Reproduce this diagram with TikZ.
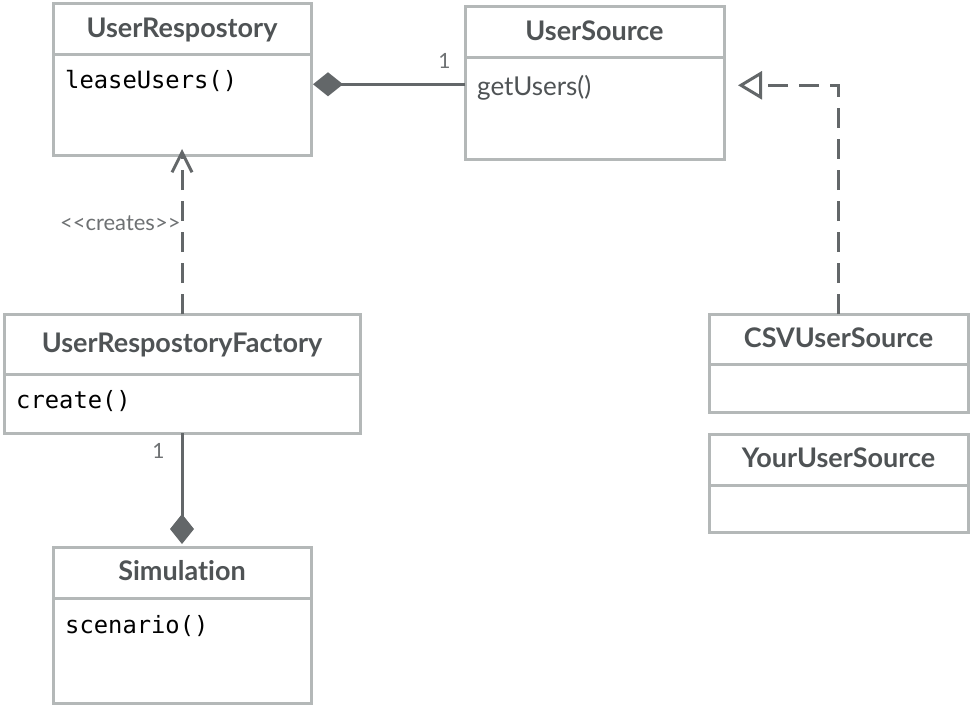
\documentclass[tikz,border=0pt]{standalone}
\usepackage{fontspec}
\setmainfont{Lato}[Ligatures=NoCommon]
\newfontfamily\methodfont{DejaVu Sans Mono}
\usepackage{tikz}
\usetikzlibrary{positioning}
\usetikzlibrary{arrows.meta}
\definecolor{boxgray}{HTML}{B4B8B8}
\definecolor{linegray}{HTML}{636769}
\definecolor{titlegray}{HTML}{4F5355}
\definecolor{labelgray}{HTML}{6E7173}

\begin{document}
\begin{tikzpicture}[x=1pt, y=-1pt,
  classhead/.style={draw=boxgray, line width=3pt, outer sep=0pt, anchor=north west,
    text=titlegray, font=\bfseries\fontsize{27}{27}\selectfont, text height=16pt, text depth=0pt},
  classbody/.style={draw=boxgray, line width=3pt, outer sep=0pt},
  method/.style={inner sep=0pt, font=\methodfont\fontsize{23.8}{23.8}\selectfont},
  lbl/.style={inner sep=0pt, text=labelgray, font=\fontsize{21}{21}\selectfont},
  compose/.style={draw=linegray, line width=3pt, -{Diamond[length=30pt, width=24pt]}},
  depend/.style={draw=linegray, line width=3pt, dash pattern=on 20pt off 11pt, -{Straight Barb[length=20pt, width=20pt]}},
  realize/.style={draw=linegray, line width=3pt, dash pattern=on 20pt off 11pt, -{Triangle[open, length=24pt, width=28pt, fill=white]}}]
  \useasboundingbox (0,0) rectangle (972,706);

  % classes
  \node[classhead, minimum width=258pt, minimum height=51pt] (repoH) at (53,4) {UserRespostory};
  \node[classbody, minimum width=258pt, minimum height=101pt, below=0pt of repoH] (repo) {};
  \node[method, below right=34pt and 12pt of repo.north west, anchor=base west] (lease) {leaseUsers()};

  \node[classhead, minimum width=259pt, minimum height=51pt] (srcH) at (465,7) {UserSource};
  \node[classbody, minimum width=259pt, minimum height=102pt, below=0pt of srcH] (src) {};
  \node[method, below right=38pt and 12pt of src.north west, anchor=base west,
    font=\fontsize{26}{26}\selectfont, text=titlegray] (getU) {getUsers()};

  \node[classhead, minimum width=356pt, minimum height=60pt] (factH) at (4,314) {UserRespostoryFactory};
  \node[classbody, minimum width=356pt, minimum height=59pt, below=0pt of factH] (fact) {};
  \node[method, below right=34pt and 12pt of fact.north west, anchor=base west] (create) {create()};

  \node[classhead, minimum width=258pt, minimum height=51pt] (simH) at (53,547) {Simulation};
  \node[classbody, minimum width=258pt, minimum height=105pt, below=0pt of simH] (sim) {};
  \node[method, below right=35pt and 12pt of sim.north west, anchor=base west] (scen) {scenario()};

  \node[classhead, minimum width=259pt, minimum height=50pt] (csvH) at (709,314) {CSVUserSource};
  \node[classbody, minimum width=259pt, minimum height=48pt, below=0pt of csvH] (csv) {};

  \node[classhead, minimum width=259pt, minimum height=51pt] (yourH) at (709,434) {YourUserSource};
  \node[classbody, minimum width=259pt, minimum height=47pt, below=0pt of yourH] (your) {};

  % relations
  \draw[compose, shorten >=2pt] ([yshift=4pt]getU.west -| src.west) -- ([yshift=4pt]getU.west -| repo.east)
    node[lbl, pos=0, above left, xshift=-13pt, yshift=14pt] (one1) {1};
  \draw[depend, shorten >=-7pt] (factH.north) -- (repo.south)
    node[lbl, pos=0.574, left, font=\fontsize{22}{22}\selectfont] (creates) {{<}{<}creates{>}{>}};
  \draw[compose, shorten >=3pt] (fact.south) -- (simH.north)
    node[lbl, pos=0, below left, xshift=-16pt, yshift=-9pt] (one2) {1};
  \draw[realize, shorten >=14pt] (csvH.north) |- ([yshift=3pt]getU.west -| src.east);
\end{tikzpicture}
\end{document}
